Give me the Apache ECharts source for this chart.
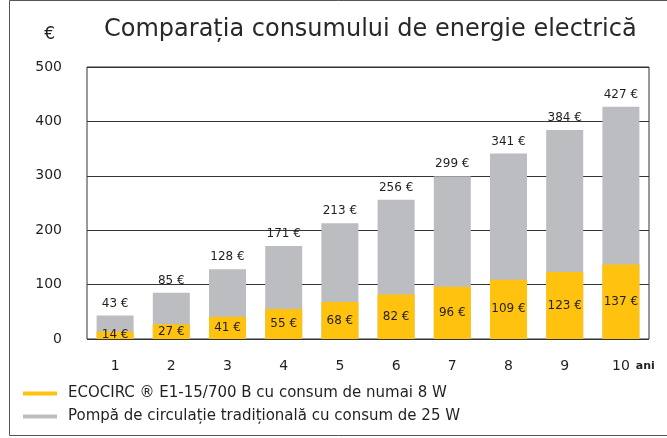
<!DOCTYPE html>
<html>
<head>
<meta charset="UTF-8">
<title>Comparatia consumului</title>
<script src="https://cdn.jsdelivr.net/npm/echarts@6/dist/echarts.min.js"></script>
<style>
  html, body { margin: 0; padding: 0; background: #fff; }
  #chart { width: 667px; height: 438px; }
</style>
</head>
<body>
<div id="chart"></div>
<script>
  // ani
  var years = ['1', '2', '3', '4', '5', '6', '7', '8', '9', '10'];
  // pompa traditionala 25 W (total)
  var traditional = [43, 85, 128, 171, 213, 256, 299, 341, 384, 427];
  // ECOCIRC 8 W
  var ecocirc = [14, 27, 41, 55, 68, 82, 96, 109, 123, 137];
  var yTicks = [0, 100, 200, 300, 400, 500];

  var nameEco = 'ECOCIRC ® E1-15/700 B cu consum de numai 8 W';
  var nameTrad = 'Pompă de circulație tradițională cu consum de 25 W';

  var font = 'DejaVu Sans';
  var ink = '#231f20';

  var chart = echarts.init(document.getElementById('chart'));

  var option = {
    backgroundColor: '#fff',
    animation: false,
    textStyle: { fontFamily: font, color: ink },
    title: {
      text: 'Comparația consumului de energie electrică',
      left: 99,
      top: 13,
      textStyle: { fontFamily: font, fontSize: 24, fontWeight: 'normal', color: '#2a2728' }
    },
    graphic: [{
      type: 'rect',
      shape: { x: 9.5, y: 0.5, width: 700, height: 435 },
      style: { fill: 'none', stroke: '#555', lineWidth: 1 },
      silent: true
    }],
    legend: {
      orient: 'vertical',
      left: 23,
      top: 386,
      padding: 0,
      itemWidth: 34,
      itemHeight: 4,
      itemGap: 8,
      icon: 'rect',
      data: [nameEco, nameTrad],
      textStyle: { fontFamily: font, fontSize: 15, color: ink, padding: [0, 0, 0, 6] }
    },
    grid: {
      left: 87,
      right: 18,
      top: 67,
      bottom: 99,
      show: true,
      borderColor: '#333',
      borderWidth: 1
    },
    xAxis: {
      type: 'category',
      data: years,
      axisLine: { show: false },
      axisTick: { show: false },
      axisLabel: { margin: 20, fontSize: 14, color: ink, fontFamily: font },
      name: 'ani',
      nameLocation: 'end',
      nameGap: -16,
      nameTextStyle: {
        fontFamily: font, fontSize: 11, fontWeight: 'bold', color: ink,
        verticalAlign: 'top', padding: [22, 0, 0, 0]
      }
    },
    yAxis: {
      type: 'value',
      min: yTicks[0],
      max: yTicks[yTicks.length - 1],
      interval: 100,
      axisLine: { show: false },
      axisTick: { show: false },
      axisLabel: { margin: 25, fontSize: 14, color: ink, fontFamily: font },
      splitLine: { lineStyle: { color: '#333', width: 1 } },
      name: '€',
      nameLocation: 'end',
      nameGap: 24,
      nameTextStyle: { fontFamily: font, fontSize: 17, color: ink, align: 'right', padding: [0, 32, 0, 0] }
    },
    series: [{
      name: nameTrad,
      type: 'bar',
      data: traditional,
      barWidth: 37,
      itemStyle: { color: '#bcbdc0' },
      label: {
        show: true,
        position: 'top',
        distance: 6,
        formatter: '{c} €',
        fontFamily: font,
        fontSize: 12,
        color: ink
      }
    }, {
      name: nameEco,
      type: 'bar',
      data: ecocirc,
      barWidth: 37,
      barGap: '-100%',
      itemStyle: { color: '#ffc30f' },
      label: {
        show: true,
        position: 'inside',
        formatter: '{c} €',
        fontFamily: font,
        fontSize: 12,
        color: ink
      }
    }]
  };

  chart.setOption(option);
</script>
</body>
</html>
